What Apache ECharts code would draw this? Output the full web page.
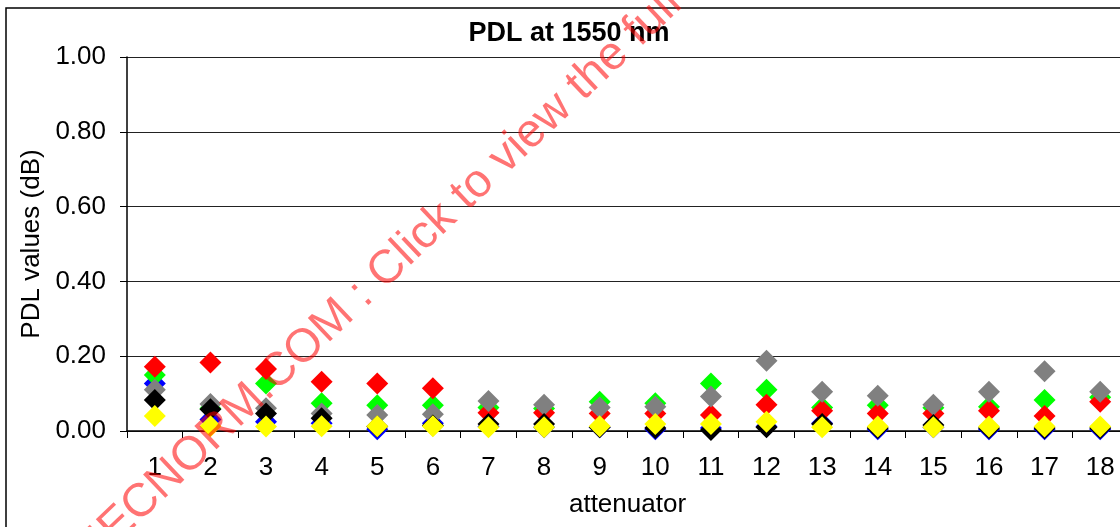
<!DOCTYPE html>
<html>
<head>
<meta charset="utf-8">
<style>
  html, body { margin: 0; padding: 0; background: #fff; overflow: hidden; }
  #chart { width: 1120px; height: 527px; }
</style>
<script src="https://cdn.jsdelivr.net/npm/echarts@6/dist/echarts.min.js"></script>
</head>
<body>
<div id="chart"></div>
<script>
// Attenuator numbers along the x axis
const attenuators = ['1','2','3','4','5','6','7','8','9','10','11','12','13','14','15','16','17','18'];

// PDL values (dB) per sample group, one value per attenuator
const blueVals   = [0.127, 0.031, 0.025, 0.021, 0.005, 0.021, 0.012, 0.010, 0.010, 0.005, 0.008, 0.012, 0.021, 0.005, 0.010, 0.005, 0.005, 0.005];
const greenVals  = [0.150, 0.060, 0.127, 0.074, 0.069, 0.069, 0.063, 0.060, 0.078, 0.074, 0.127, 0.110, 0.063, 0.069, 0.062, 0.065, 0.083, 0.090];
const redVals    = [0.172, 0.183, 0.166, 0.132, 0.127, 0.114, 0.049, 0.049, 0.047, 0.047, 0.043, 0.070, 0.054, 0.047, 0.047, 0.054, 0.040, 0.078];
const grayVals   = [0.110, 0.072, 0.061, 0.047, 0.043, 0.045, 0.080, 0.070, 0.063, 0.065, 0.092, 0.188, 0.105, 0.094, 0.070, 0.105, 0.160, 0.105];
const blackVals  = [0.083, 0.058, 0.047, 0.034, 0.012, 0.015, 0.019, 0.019, 0.010, 0.008, 0.003, 0.010, 0.019, 0.008, 0.016, 0.008, 0.008, 0.008];
const yellowVals = [0.040, 0.013, 0.012, 0.013, 0.013, 0.013, 0.010, 0.010, 0.013, 0.019, 0.019, 0.025, 0.010, 0.012, 0.010, 0.012, 0.012, 0.012];

const FONT = 'Arial, "Liberation Sans", sans-serif';

function diamonds(name, data, color) {
  return {
    name: name,
    type: 'scatter',
    data: data,
    symbol: 'diamond',
    symbolSize: 22,
    itemStyle: { color: color, opacity: 1 },
    emphasis: { disabled: true },
    animation: false
  };
}

const chart = echarts.init(document.getElementById('chart'), null, { renderer: 'canvas' });

chart.setOption({
  backgroundColor: '#ffffff',
  animation: false,
  title: {
    text: 'PDL at 1550 nm',
    left: 569,
    top: 20,
    padding: 0,
    textAlign: 'center',
    textStyle: { fontFamily: FONT, fontSize: 27, fontWeight: 'bold', color: '#000' }
  },
  grid: {
    left: 127, top: 57, width: 1001, height: 374,
    containLabel: false,
    outerBoundsMode: 'none'
  },
  xAxis: {
    type: 'category',
    data: attenuators,
    boundaryGap: true,
    name: 'attenuator',
    nameLocation: 'middle',
    nameGap: 61,
    nameTextStyle: { fontFamily: FONT, fontSize: 26, color: '#000' },
    axisLine: { lineStyle: { color: '#000', width: 1.5 } },
    axisTick: { show: true, alignWithLabel: false, inside: false, length: 7, lineStyle: { color: '#000' } },
    axisLabel: { fontFamily: FONT, fontSize: 26, color: '#000', margin: 24, interval: 0 },
    splitLine: { show: false }
  },
  yAxis: {
    type: 'value',
    min: 0,
    max: 1,
    interval: 0.2,
    name: 'PDL values (dB)',
    nameLocation: 'middle',
    nameGap: 77,
    nameTextStyle: { fontFamily: FONT, fontSize: 26, color: '#000' },
    axisLine: { show: true, lineStyle: { color: '#000', width: 1.5 } },
    axisTick: { show: true, inside: false, length: 7, lineStyle: { color: '#000' } },
    axisLabel: {
      fontFamily: FONT, fontSize: 26, color: '#000', margin: 21,
      formatter: function (v) { return v.toFixed(2); }
    },
    splitLine: { show: true, lineStyle: { color: '#222', width: 1 } }
  },
  series: [
    diamonds('Blue', blueVals, '#0000ff'),
    diamonds('Green', greenVals, '#00ff00'),
    diamonds('Red', redVals, '#ff0000'),
    diamonds('Gray', grayVals, '#808080'),
    diamonds('Black', blackVals, '#000000'),
    diamonds('Yellow', yellowVals, '#ffff00')
  ],
  graphic: [
    {
      // chart frame
      type: 'rect',
      silent: true,
      z: 0,
      shape: { x: 6, y: 8, width: 1300, height: 700 },
      style: { fill: 'none', stroke: '#000', lineWidth: 1.5 }
    },
    {
      // diagonal publisher stamp across the plot
      type: 'text',
      silent: true,
      z: 100,
      x: 113,
      y: 562,
      rotation: 43.5 * Math.PI / 180,
      style: {
        text: 'IECNORM.COM : Click to view the full PDF',
        font: '47px Arial, "Liberation Sans", sans-serif',
        fill: 'rgba(255, 0, 0, 0.55)',
        align: 'left',
        verticalAlign: 'bottom'
      }
    }
  ]
});
</script>
</body>
</html>
